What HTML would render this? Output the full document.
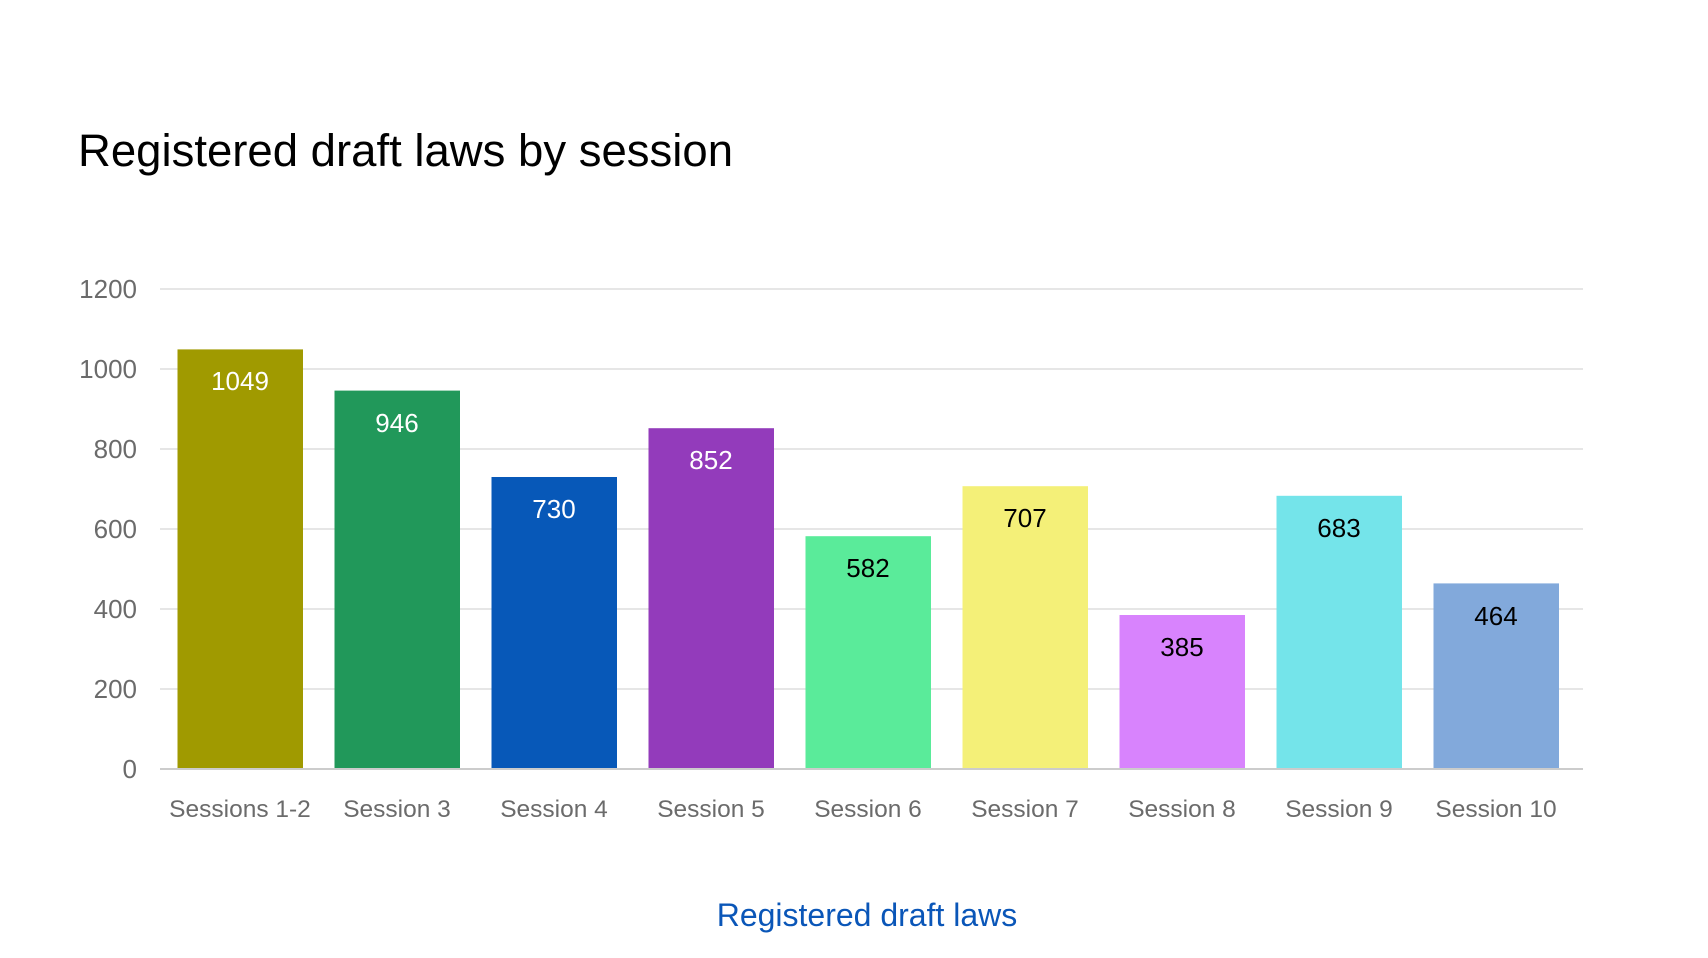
<!DOCTYPE html>
<html><head><meta charset="utf-8"><style>
html,body{margin:0;padding:0;background:#fff;}
svg{display:block;}
text{font-family:"Liberation Sans",sans-serif;}
</style></head><body>
<svg width="1708" height="958" viewBox="0 0 1708 958">
<text x="78" y="166" font-size="45.5" fill="#000">Registered draft laws by session</text>
<g stroke="#e6e6e6" stroke-width="2">
<line x1="160" x2="1583" y1="289" y2="289"/>
<line x1="160" x2="1583" y1="369" y2="369"/>
<line x1="160" x2="1583" y1="449" y2="449"/>
<line x1="160" x2="1583" y1="529" y2="529"/>
<line x1="160" x2="1583" y1="609" y2="609"/>
<line x1="160" x2="1583" y1="689" y2="689"/>
</g>
<g font-size="26" fill="#6b6b6b" text-anchor="end">
<text x="137" y="298">1200</text>
<text x="137" y="378">1000</text>
<text x="137" y="458">800</text>
<text x="137" y="538">600</text>
<text x="137" y="618">400</text>
<text x="137" y="698">200</text>
<text x="137" y="778">0</text>
</g>
<g>
<rect x="177.5" y="349.4" width="125.5" height="419.6" fill="#a09a00"/>
<rect x="334.5" y="390.6" width="125.5" height="378.4" fill="#21985a"/>
<rect x="491.5" y="477" width="125.5" height="292" fill="#0758b8"/>
<rect x="648.5" y="428.2" width="125.5" height="340.8" fill="#933bbb"/>
<rect x="805.5" y="536.2" width="125.5" height="232.8" fill="#5aeb9a"/>
<rect x="962.5" y="486.2" width="125.5" height="282.8" fill="#f4f078"/>
<rect x="1119.5" y="615" width="125.5" height="154" fill="#d883fd"/>
<rect x="1276.5" y="495.8" width="125.5" height="273.2" fill="#74e4ea"/>
<rect x="1433.5" y="583.4" width="125.5" height="185.6" fill="#82a9db"/>
</g>
<line x1="160" x2="1583" y1="769" y2="769" stroke="#cccccc" stroke-width="2"/>
<g font-size="26" text-anchor="middle">
<text x="240" y="390" fill="#fff">1049</text>
<text x="397" y="432" fill="#fff">946</text>
<text x="554" y="518" fill="#fff">730</text>
<text x="711" y="469" fill="#fff">852</text>
<text x="868" y="577" fill="#000">582</text>
<text x="1025" y="527" fill="#000">707</text>
<text x="1182" y="656" fill="#000">385</text>
<text x="1339" y="537" fill="#000">683</text>
<text x="1496" y="625" fill="#000">464</text>
</g>
<g font-size="24.5" fill="#6b6b6b" text-anchor="middle">
<text x="240" y="817">Sessions 1-2</text>
<text x="397" y="817">Session 3</text>
<text x="554" y="817">Session 4</text>
<text x="711" y="817">Session 5</text>
<text x="868" y="817">Session 6</text>
<text x="1025" y="817">Session 7</text>
<text x="1182" y="817">Session 8</text>
<text x="1339" y="817">Session 9</text>
<text x="1496" y="817">Session 10</text>
</g>
<text x="867" y="926" font-size="32" fill="#0a56b8" text-anchor="middle">Registered draft laws</text>
</svg>
</body></html>
